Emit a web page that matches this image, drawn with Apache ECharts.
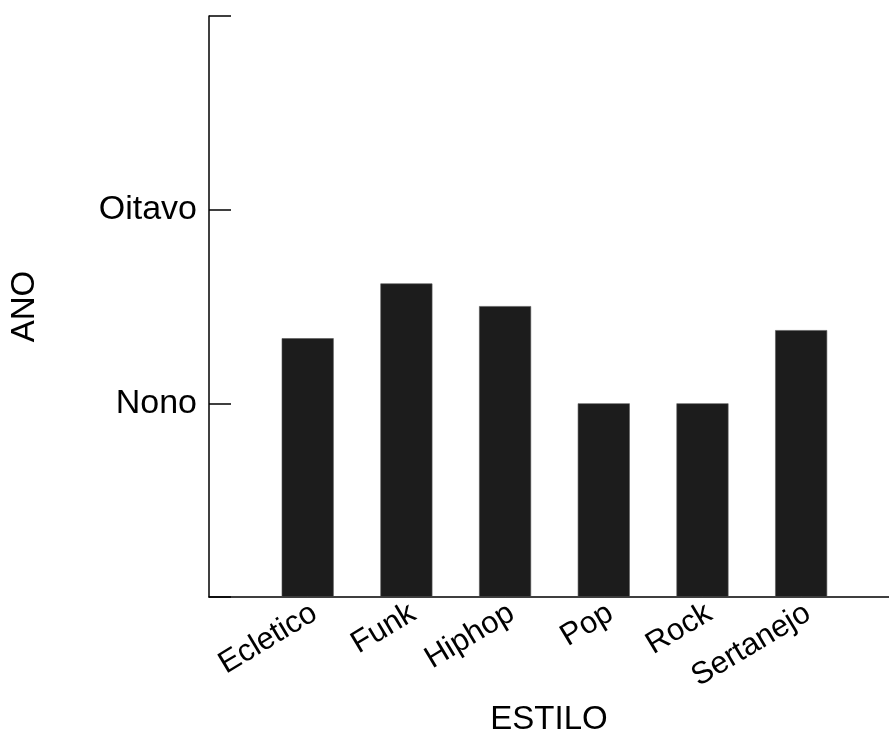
<!DOCTYPE html>
<html>
<head>
<meta charset="utf-8">
<script src="https://cdn.jsdelivr.net/npm/echarts@6/dist/echarts.min.js"></script>
<style>
html,body{margin:0;padding:0;background:#fff;}
#chart{width:889px;height:738px;}
</style>
</head>
<body>
<div id="chart"></div>
<script>
var categories = ['Ecletico', 'Funk', 'Hiphop', 'Pop', 'Rock', 'Sertanejo'];
var values = [1.336, 1.619, 1.502, 1.0, 1.0, 1.378];
var yTickLabels = {1: 'Nono', 2: 'Oitavo'};

var FONT = "'Liberation Sans', Arial, sans-serif";
var chart = echarts.init(document.getElementById('chart'));
var seriesData = values.map(function (v, i) { return [i + 1, v]; });

chart.setOption({
  animation: false,
  backgroundColor: '#ffffff',
  grid: {left: 209, right: 0, top: 16, bottom: 141, containLabel: false, outerBoundsMode: 'none'},
  xAxis: {
    type: 'value',
    min: 0,
    max: 6.89,
    interval: 1,
    name: 'ESTILO',
    nameLocation: 'middle',
    nameGap: 106,
    nameTextStyle: {fontFamily: FONT, fontSize: 33, color: '#000'},
    splitLine: {show: false},
    axisLine: {show: true, onZero: false, lineStyle: {color: '#000', width: 1.5}},
    axisTick: {show: true, inside: true, length: 8, lineStyle: {color: '#555', width: 1}},
    axisLabel: {
      rotate: 31,
      margin: 18,
      fontFamily: FONT,
      fontSize: 31,
      color: '#000',
      padding: [0, -8, 0, 0],
      showMinLabel: false,
      showMaxLabel: false,
      formatter: function (v) {
        var idx = Math.round(v) - 1;
        return (Math.abs(v - Math.round(v)) < 1e-6 && categories[idx]) ? categories[idx] : '';
      }
    }
  },
  yAxis: {
    type: 'value',
    min: 0,
    max: 3,
    interval: 1,
    name: 'ANO',
    nameLocation: 'middle',
    nameGap: 168,
    nameRotate: 90,
    nameTextStyle: {fontFamily: FONT, fontSize: 33, color: '#000'},
    splitLine: {show: false},
    axisLine: {show: true, lineStyle: {color: '#000', width: 1.5}},
    axisTick: {show: true, inside: true, length: 22, lineStyle: {color: '#000', width: 1.5}},
    axisLabel: {
      margin: 12,
      fontFamily: FONT,
      fontSize: 34,
      color: '#000',
      formatter: function (v) { return yTickLabels[v] || ''; }
    }
  },
  series: [{
    type: 'bar',
    data: seriesData,
    barWidth: 52,
    itemStyle: {color: '#1c1c1c', borderColor: '#555', borderWidth: 0.6}
  }]
});
</script>
</body>
</html>
